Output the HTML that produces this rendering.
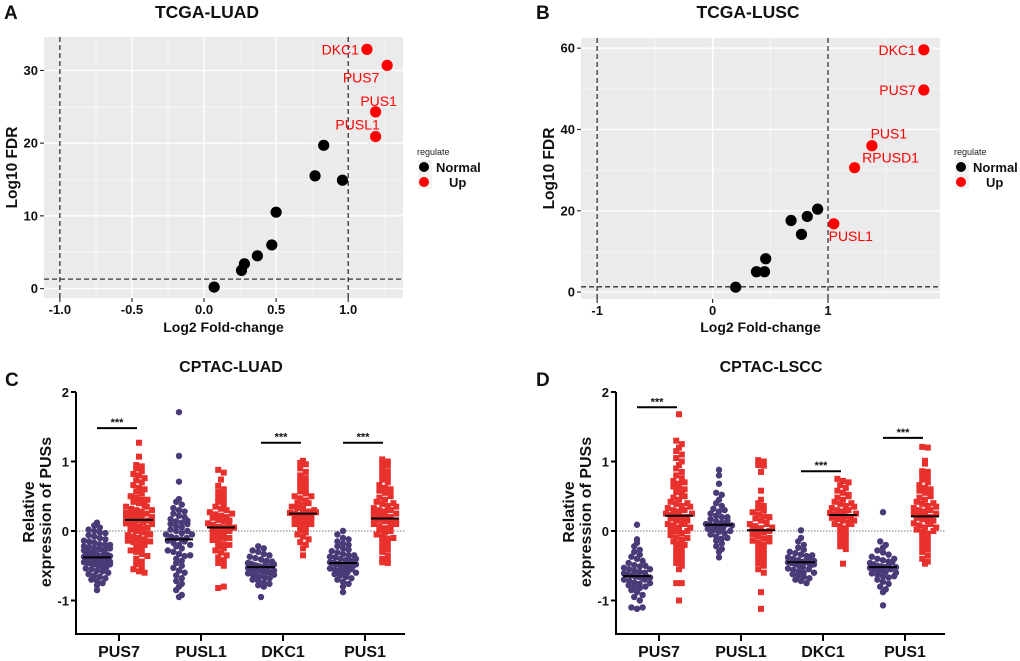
<!DOCTYPE html>
<html><head><meta charset="utf-8">
<style>
html,body{margin:0;padding:0;background:#fff;}
svg{display:block;font-family:"Liberation Sans",Arial,sans-serif;}
</style></head>
<body>
<svg id="fig" width="1020" height="661" viewBox="0 0 1020 661" xmlns="http://www.w3.org/2000/svg">
<g id="panelA"></g>
<g id="panelB"></g>
<g id="panelC"></g>
<g id="panelD"></g>
</svg>
<script>
// ---------- Volcano data ----------
const aNormalX = [0.07,0.26,0.28,0.37,0.47,0.50,0.77,0.96,0.83];
const aNormalY = [0.2,2.5,3.4,4.5,6.0,10.5,15.5,14.9,19.7];
const aUpGenes = ["DKC1","PUS7","PUS1","PUSL1"];
const aUpX = [1.13,1.27,1.19,1.19];
const aUpY = [32.9,30.7,24.3,20.9];
const aXTicks = [-1.0,-0.5,0.0,0.5,1.0];
const aXTickLabels = ["-1.0","-0.5","0.0","0.5","1.0"];
const aYTicks = [0,10,20,30];

const bNormalX = [0.20,0.38,0.45,0.46,0.68,0.77,0.82,0.91];
const bNormalY = [1.2,5.0,5.0,8.2,17.6,14.2,18.6,20.4];
const bUpGenes = ["DKC1","PUS7","PUS1","RPUSD1","PUSL1"];
const bUpX = [1.83,1.83,1.38,1.23,1.05];
const bUpY = [59.6,49.7,36.0,30.6,16.8];
const bXTicks = [-1,0,1];
const bXTickLabels = ["-1","0","1"];
const bYTicks = [0,20,40,60];

// ---------- Dot plot data ----------
const categories = ["PUS7","PUSL1","DKC1","PUS1"];
const cMedNormal = [-0.38,-0.12,-0.52,-0.46];
const cMedTumor = [0.16,0.05,0.25,0.18];
const dMedNormal = [-0.65,0.09,-0.45,-0.52];
const dMedTumor = [0.22,0.01,0.23,0.21];
const cSigCats = [0,2,3];
const cSigY = [1.48,1.27,1.27];
const dSigCats = [0,2,3];
const dSigY = [1.78,0.86,1.34];
const yTicksDot = [2,1,0,-1];

const cN0 = [0.12,0.08,0.05,0.02,0.0,-0.02,-0.03,-0.06,-0.08,-0.1,-0.12,-0.14,-0.15,-0.17,-0.19,-0.2,-0.22,-0.23,-0.25,-0.26,-0.27,-0.28,-0.3,-0.31,-0.32,-0.33,-0.35,-0.36,-0.37,-0.38,-0.38,-0.39,-0.4,-0.41,-0.42,-0.43,-0.44,-0.45,-0.46,-0.47,-0.48,-0.5,-0.51,-0.52,-0.54,-0.55,-0.57,-0.58,-0.6,-0.62,-0.64,-0.66,-0.68,-0.7,-0.72,-0.75,-0.78,-0.85,-0.3,-0.34,-0.4,-0.44,-0.48,-0.25,-0.2,-0.36];
const cT0 = [1.27,1.07,0.95,0.93,0.9,0.86,0.82,0.8,0.76,0.73,0.7,0.66,0.62,0.6,0.57,0.54,0.5,0.48,0.45,0.42,0.4,0.37,0.35,0.32,0.3,0.28,0.26,0.24,0.22,0.2,0.18,0.17,0.16,0.15,0.13,0.11,0.1,0.08,0.06,0.04,0.02,0.0,-0.02,-0.04,-0.06,-0.08,-0.1,-0.12,-0.14,-0.16,-0.18,-0.2,-0.22,-0.25,-0.28,-0.3,-0.33,-0.36,-0.4,-0.44,-0.48,-0.52,-0.55,-0.58,-0.6,0.35,0.25,0.15,0.05,-0.05,0.2,0.1,0.3,-0.15,0.45,0.12];
const cN1 = [1.71,1.08,0.71,0.46,0.42,0.38,0.33,0.3,0.28,0.25,0.22,0.2,0.17,0.14,0.12,0.1,0.07,0.05,0.02,0.0,-0.03,-0.05,-0.08,-0.1,-0.12,-0.14,-0.17,-0.2,-0.22,-0.25,-0.28,-0.3,-0.33,-0.36,-0.4,-0.43,-0.46,-0.5,-0.53,-0.57,-0.6,-0.64,-0.68,-0.72,-0.76,-0.8,-0.85,-0.95,-0.92,0.1,-0.1,0.0,-0.15,0.15,-0.05,-0.2,-0.35];
const cT1 = [0.88,0.84,0.74,0.65,0.6,0.56,0.52,0.48,0.45,0.42,0.38,0.35,0.32,0.3,0.27,0.24,0.22,0.19,0.16,0.14,0.11,0.09,0.06,0.05,0.03,0.0,-0.02,-0.05,-0.08,-0.1,-0.13,-0.16,-0.19,-0.22,-0.25,-0.28,-0.31,-0.35,-0.38,-0.42,-0.46,-0.5,-0.82,-0.8,0.2,0.1,-0.1,0.0,0.25,-0.2,0.15,0.05];
const cN2 = [-0.22,-0.25,-0.28,-0.3,-0.33,-0.35,-0.37,-0.39,-0.41,-0.43,-0.44,-0.46,-0.47,-0.49,-0.5,-0.51,-0.52,-0.53,-0.54,-0.55,-0.56,-0.58,-0.59,-0.6,-0.61,-0.62,-0.64,-0.65,-0.67,-0.68,-0.7,-0.72,-0.74,-0.76,-0.78,-0.8,-0.95,-0.45,-0.52,-0.57,-0.63,-0.5,-0.48];
const cT2 = [1.01,0.98,0.96,0.9,0.85,0.8,0.76,0.72,0.68,0.64,0.6,0.57,0.54,0.5,0.47,0.44,0.41,0.38,0.35,0.33,0.3,0.28,0.26,0.25,0.23,0.2,0.18,0.15,0.12,0.1,0.07,0.04,0.01,-0.02,-0.05,-0.08,-0.12,-0.16,-0.2,-0.25,-0.35,0.3,0.22,0.4,0.1,0.18,0.5,0.27];
const cN3 = [0.0,-0.05,-0.1,-0.12,-0.15,-0.18,-0.2,-0.22,-0.25,-0.27,-0.29,-0.31,-0.33,-0.35,-0.37,-0.38,-0.4,-0.42,-0.43,-0.45,-0.46,-0.47,-0.48,-0.5,-0.51,-0.52,-0.54,-0.55,-0.57,-0.58,-0.6,-0.62,-0.64,-0.66,-0.68,-0.7,-0.73,-0.76,-0.8,-0.88,-0.45,-0.5,-0.4,-0.55,-0.35,-0.6,-0.48];
const cT3 = [1.03,1.0,0.98,0.95,0.9,0.86,0.82,0.78,0.74,0.7,0.66,0.62,0.58,0.55,0.52,0.48,0.45,0.42,0.39,0.36,0.33,0.3,0.28,0.25,0.22,0.2,0.18,0.16,0.14,0.12,0.1,0.07,0.04,0.01,-0.02,-0.05,-0.08,-0.11,-0.14,-0.18,-0.22,-0.26,-0.3,-0.35,-0.4,-0.43,-0.45,-0.46,0.2,0.3,0.15,0.25,0.05,0.35,0.1,0.0,0.4,-0.1,0.5,0.6];

const dN0 = [0.09,-0.12,-0.17,-0.22,-0.27,-0.3,-0.34,-0.37,-0.4,-0.43,-0.46,-0.49,-0.51,-0.53,-0.55,-0.57,-0.59,-0.61,-0.63,-0.64,-0.65,-0.66,-0.68,-0.7,-0.72,-0.74,-0.76,-0.78,-0.8,-0.82,-0.85,-0.88,-0.92,-0.95,-1.0,-1.1,-1.12,-1.1,-0.6,-0.7,-0.65,-0.75,-0.55,-0.67,-0.8,-0.5];
const dT0 = [1.68,1.3,1.25,1.2,1.15,1.1,1.05,1.0,0.95,0.9,0.85,0.8,0.76,0.72,0.68,0.64,0.6,0.56,0.52,0.48,0.45,0.42,0.39,0.36,0.33,0.3,0.28,0.25,0.23,0.22,0.2,0.18,0.15,0.12,0.1,0.08,0.05,0.02,0.0,-0.03,-0.06,-0.09,-0.12,-0.15,-0.18,-0.22,-0.26,-0.3,-0.34,-0.38,-0.42,-0.46,-0.5,-0.55,-0.75,-0.75,-1.0,0.3,0.2,0.1,0.4,0.0,0.25,0.5,0.15,0.6,-0.1,0.35,0.05,-0.2,0.7];
const dN1 = [0.88,0.8,0.68,0.55,0.52,0.45,0.4,0.36,0.32,0.28,0.25,0.22,0.2,0.17,0.14,0.12,0.1,0.09,0.07,0.05,0.03,0.01,-0.01,-0.03,-0.05,-0.08,-0.11,-0.14,-0.18,-0.22,-0.26,-0.3,-0.38,0.15,0.05,0.1,0.0,0.2,-0.1,0.3,0.08];
const dT1 = [1.02,1.0,0.95,0.94,0.85,0.58,0.45,0.4,0.36,0.33,0.3,0.27,0.24,0.21,0.18,0.15,0.12,0.1,0.07,0.04,0.02,0.0,-0.02,-0.05,-0.08,-0.11,-0.14,-0.17,-0.2,-0.23,-0.26,-0.3,-0.34,-0.38,-0.42,-0.46,-0.5,-0.55,-0.6,-0.88,-1.12,0.1,0.0,-0.1,0.2,-0.15,0.05];
const dN2 = [0.01,-0.1,-0.15,-0.2,-0.24,-0.27,-0.3,-0.32,-0.34,-0.36,-0.38,-0.4,-0.42,-0.44,-0.45,-0.46,-0.48,-0.5,-0.52,-0.54,-0.56,-0.58,-0.6,-0.62,-0.64,-0.66,-0.68,-0.7,-0.72,-0.75,-0.45,-0.5,-0.4,-0.55,-0.35,-0.6,-0.48,-0.43];
const dT2 = [0.75,0.72,0.7,0.66,0.62,0.58,0.55,0.52,0.48,0.45,0.42,0.39,0.36,0.33,0.3,0.28,0.26,0.24,0.23,0.21,0.19,0.17,0.15,0.12,0.1,0.07,0.04,0.01,-0.02,-0.06,-0.1,-0.14,-0.18,-0.22,-0.26,-0.47,0.3,0.2,0.25,0.35,0.15,0.4,0.1,0.5];
const dN3 = [0.27,-0.15,-0.2,-0.24,-0.28,-0.31,-0.34,-0.37,-0.4,-0.42,-0.44,-0.46,-0.48,-0.5,-0.51,-0.52,-0.53,-0.55,-0.57,-0.59,-0.61,-0.63,-0.65,-0.67,-0.7,-0.73,-0.76,-0.8,-0.84,-0.88,-1.07,-0.5,-0.55,-0.45,-0.6,-0.4,-0.65,-0.52];
const dT3 = [1.21,1.2,1.01,0.97,0.86,0.85,0.82,0.78,0.74,0.7,0.66,0.62,0.58,0.55,0.52,0.48,0.45,0.42,0.39,0.36,0.33,0.3,0.28,0.25,0.22,0.21,0.19,0.17,0.14,0.11,0.08,0.05,0.02,-0.01,-0.04,-0.07,-0.1,-0.14,-0.18,-0.22,-0.26,-0.3,-0.35,-0.4,-0.44,-0.47,0.2,0.3,0.1,0.25,0.35,0.15,0.4,0.05,0.5,0.6,0.0];

const cNormal = [cN0,cN1,cN2,cN3];
const cTumor = [cT0,cT1,cT2,cT3];
const dNormal = [dN0,dN1,dN2,dN3];
const dTumor = [dT0,dT1,dT2,dT3];

const NS = "http://www.w3.org/2000/svg";
function mk(parent, tag, attrs, text){
  const e = document.createElementNS(NS, tag);
  for (const k in attrs) e.setAttribute(k, attrs[k]);
  if (text !== undefined) e.textContent = text;
  parent.appendChild(e);
  return e;
}

// ---------- Volcano plot ----------
function volcano(g, cfg){
  const L=cfg.x0, R=cfg.x1, T=cfg.y0, B=cfg.y1;
  const sx = v => L + (v-cfg.xd[0])/(cfg.xd[1]-cfg.xd[0])*(R-L);
  const sy = v => B - (v-cfg.yd[0])/(cfg.yd[1]-cfg.yd[0])*(B-T);
  const bg = mk(g,'rect',{x:L,y:T,width:R-L,height:B-T,fill:'#EBEBEB'});
  
  
  for (let i=0;i<cfg.xt.length;i++){
    const step = cfg.xt[1]-cfg.xt[0];
    [cfg.xt[i]-step/2, cfg.xt[i]+step/2].forEach(v=>{
      if (v>cfg.xd[0] && v<cfg.xd[1]) mk(g,'line',{x1:sx(v),x2:sx(v),y1:T,y2:B,stroke:'#F5F5F5','stroke-width':0.8});
    });
  }
  for (let i=0;i<cfg.yt.length;i++){
    const step = cfg.yt[1]-cfg.yt[0];
    [cfg.yt[i]-step/2, cfg.yt[i]+step/2].forEach(v=>{
      if (v>cfg.yd[0] && v<cfg.yd[1]) mk(g,'line',{x1:L,x2:R,y1:sy(v),y2:sy(v),stroke:'#F5F5F5','stroke-width':0.8});
    });
  }
  cfg.xt.forEach((v,i)=>{
    mk(g,'line',{x1:sx(v),x2:sx(v),y1:T,y2:B,stroke:'#fff','stroke-width':1.4});
    mk(g,'line',{x1:sx(v),x2:sx(v),y1:B,y2:B+4,stroke:'#333','stroke-width':1.2});
    const t = mk(g,'text',{x:sx(v),y:B+16,'text-anchor':'middle','font-size':13,'font-weight':'bold',fill:'#111'},cfg.xtl[i]);
    
    
  });
  cfg.yt.forEach(v=>{
    mk(g,'line',{x1:L,x2:R,y1:sy(v),y2:sy(v),stroke:'#fff','stroke-width':1.4});
    mk(g,'line',{x1:L-4,x2:L,y1:sy(v),y2:sy(v),stroke:'#333','stroke-width':1.2});
    const t = mk(g,'text',{x:L-6,y:sy(v)+4.5,'text-anchor':'end','font-size':13,'font-weight':'bold',fill:'#111'},String(v));
    
    
  });
  [-1,1].forEach(v=>{
    const l = mk(g,'line',{x1:sx(v),x2:sx(v),y1:T,y2:B,stroke:'#333','stroke-width':1.3,'stroke-dasharray':'5,3'});
    
    
  });
  const hl = mk(g,'line',{x1:L,x2:R,y1:sy(1.3),y2:sy(1.3),stroke:'#333','stroke-width':1.3,'stroke-dasharray':'5,3'});
  
  
  cfg.nx.forEach((v,i)=>{
    const c = mk(g,'circle',{cx:sx(v),cy:sy(cfg.ny[i]),r:5.6,fill:'#000'});
    
    
  });
  cfg.ux.forEach((v,i)=>{
    const px=sx(v), py=sy(cfg.uy[i]);
    const c = mk(g,'circle',{cx:px,cy:py,r:5.6,fill:'#FF0000'});
    
    
    const o = cfg.lab[i];
    const t = mk(g,'text',{x:px+o[0],y:py+o[1],'text-anchor':o[2],'font-size':14,fill:'#FF0000'},cfg.genes[i]);
    
    
  });
  const tt = mk(g,'text',{x:cfg.tx,y:18,'text-anchor':'middle','font-size':17.5,'font-weight':'bold',fill:'#111'},cfg.title);
  
  
  const pl = mk(g,'text',{x:cfg.lx,y:19,'font-size':19,'font-weight':'bold',fill:'#111'},cfg.letter);
  
  
  const xt = mk(g,'text',{x:(L+R)/2,y:332,'text-anchor':'middle','font-size':14,'font-weight':'bold',fill:'#111'},'Log2 Fold-change');
  
  
  const yt = mk(g,'text',{x:0,y:0,transform:`translate(${L-27},${(T+B)/2}) rotate(-90)`,'text-anchor':'middle','font-size':15.5,'font-weight':'bold',fill:'#111'},'Log10 FDR');
  
  
  const lg = mk(g,'g',{});
  
  
  mk(lg,'text',{x:R+14,y:155,'font-size':9,fill:'#222'},'regulate');
  mk(lg,'rect',{x:R+15,y:160,width:14,height:29,fill:'#F2F2F2'});
  const e1 = mk(lg,'circle',{cx:R+21,cy:167,r:5,fill:'#000'});
  
  
  mk(lg,'text',{x:R+33,y:172,'font-size':13,'font-weight':'bold',fill:'#111'},'Normal');
  const e2 = mk(lg,'circle',{cx:R+21,cy:182,r:5,fill:'#FF0000'});
  
  
  mk(lg,'text',{x:R+46,y:187,'font-size':13,'font-weight':'bold',fill:'#111'},'Up');
}

volcano(document.getElementById('panelA'),{
  x0:44,x1:403,y0:37,y1:298,xd:[-1.11,1.38],yd:[-1.3,34.6],
  xt:aXTicks,xtl:aXTickLabels,yt:aYTicks,nx:aNormalX,ny:aNormalY,
  ux:aUpX,uy:aUpY,genes:aUpGenes,
  lab:[[-8,5,'end'],[-26,17,'middle'],[3,-6,'middle'],[-18,-7,'middle']],
  title:'TCGA-LUAD',tx:207,letter:'A',lx:4
});
volcano(document.getElementById('panelB'),{
  x0:581,x1:940,y0:38,y1:299,xd:[-1.14,1.97],yd:[-1.7,62.5],
  xt:bXTicks,xtl:bXTickLabels,yt:bYTicks,nx:bNormalX,ny:bNormalY,
  ux:bUpX,uy:bUpY,genes:bUpGenes,
  lab:[[-8,5,'end'],[-8,5,'end'],[17,-7,'middle'],[36,-5,'middle'],[17,17,'middle']],
  title:'TCGA-LUSC',tx:748,letter:'B',lx:536
});

// ---------- Dot plot ----------
function dotplot(g, cfg){
  const T=392, B=634, L=cfg.ax, R=cfg.rx;
  const sy = v => 531 - v*69.5;
  const cx = i => cfg.c0 + i*82;
  const z = mk(g,'line',{x1:L,x2:R,y1:sy(0),y2:sy(0),stroke:'#777','stroke-width':1,'stroke-dasharray':'1.5,1.5'});
  
  
  function swarm(vals, center, color, isSquare, nm){
    const maxW = 26, step0 = 5.6;
    const bins = {};
    vals.forEach(v=>{ const k=Math.round(v/0.08); (bins[k]=bins[k]||[]).push(v); });
    Object.keys(bins).forEach(k=>{
      const arr = bins[k], n = arr.length;
      const step = n>1 ? Math.min(step0, maxW/(n-1)) : 0;
      arr.forEach((v,j)=>{
        const x = center + (j-(n-1)/2)*step, y = sy(v);
        let e;
        if (isSquare) e = mk(g,'rect',{x:x-3,y:y-3,width:6,height:6,fill:color});
        else e = mk(g,'circle',{cx:x,cy:y,r:3.2,fill:color});
        
        
      });
    });
  }
  categories.forEach((c,i)=>{
    const xN = cx(i)-22, xT = cx(i)+20;
    swarm(cfg.normal[i], xN, '#4B3A78', false, 'normal-point-'+c.toLowerCase());
    swarm(cfg.tumor[i], xT, '#E8302C', true, 'tumor-point-'+c.toLowerCase());
    const m1 = mk(g,'line',{x1:xN-14,x2:xN+14,y1:sy(cfg.medN[i]),y2:sy(cfg.medN[i]),stroke:'#000','stroke-width':2});
    
    
    const m2 = mk(g,'line',{x1:xT-14,x2:xT+14,y1:sy(cfg.medT[i]),y2:sy(cfg.medT[i]),stroke:'#000','stroke-width':2});
    
    
    mk(g,'line',{x1:cx(i),x2:cx(i),y1:B,y2:B+7,stroke:'#000','stroke-width':2});
    const t = mk(g,'text',{x:cx(i),y:657,'text-anchor':'middle','font-size':16,'font-weight':'bold',fill:'#111'},c);
    
    
  });
  cfg.sigCats.forEach((ci,k)=>{
    const y = sy(cfg.sigY[k]);
    const l = mk(g,'line',{x1:cx(ci)-22,x2:cx(ci)+18,y1:y,y2:y,stroke:'#000','stroke-width':2});
    
    
    mk(g,'text',{x:cx(ci)-2,y:y-2,'text-anchor':'middle','font-size':11,'font-weight':'bold',fill:'#111'},'***');
  });
  const ya = mk(g,'line',{x1:L,x2:L,y1:T,y2:B+1,stroke:'#000','stroke-width':2});
  
  
  const xa = mk(g,'line',{x1:L-1,x2:R,y1:B,y2:B,stroke:'#000','stroke-width':2});
  
  
  yTicksDot.forEach(v=>{
    mk(g,'line',{x1:L-5,x2:L,y1:sy(v),y2:sy(v),stroke:'#000','stroke-width':2});
    const t = mk(g,'text',{x:L-7,y:sy(v)+5,'text-anchor':'end','font-size':13,'font-weight':'bold',fill:'#111'},String(v));
    
    
  });
  const tt = mk(g,'text',{x:cfg.tx,y:372,'text-anchor':'middle','font-size':16,'font-weight':'bold',fill:'#111'},cfg.title);
  
  
  const pl = mk(g,'text',{x:cfg.lx,y:386,'font-size':19,'font-weight':'bold',fill:'#111'},cfg.letter);
  
  
  const y1 = mk(g,'text',{x:0,y:0,transform:`translate(${L-42},512) rotate(-90)`,'text-anchor':'middle','font-size':16,'font-weight':'bold',fill:'#111'},'Relative');
  
  
  const y2 = mk(g,'text',{x:0,y:0,transform:`translate(${L-25},512) rotate(-90)`,'text-anchor':'middle','font-size':16,'font-weight':'bold',fill:'#111'},'expression of PUSs');
  
  
}

dotplot(document.getElementById('panelC'),{
  ax:76,rx:405,c0:119,normal:cNormal,tumor:cTumor,medN:cMedNormal,medT:cMedTumor,
  sigCats:cSigCats,sigY:cSigY,title:'CPTAC-LUAD',tx:231,letter:'C',lx:5
});
dotplot(document.getElementById('panelD'),{
  ax:616,rx:945,c0:659,normal:dNormal,tumor:dTumor,medN:dMedNormal,medT:dMedTumor,
  sigCats:dSigCats,sigY:dSigY,title:'CPTAC-LSCC',tx:771,letter:'D',lx:536
});
</script>
</body></html>
